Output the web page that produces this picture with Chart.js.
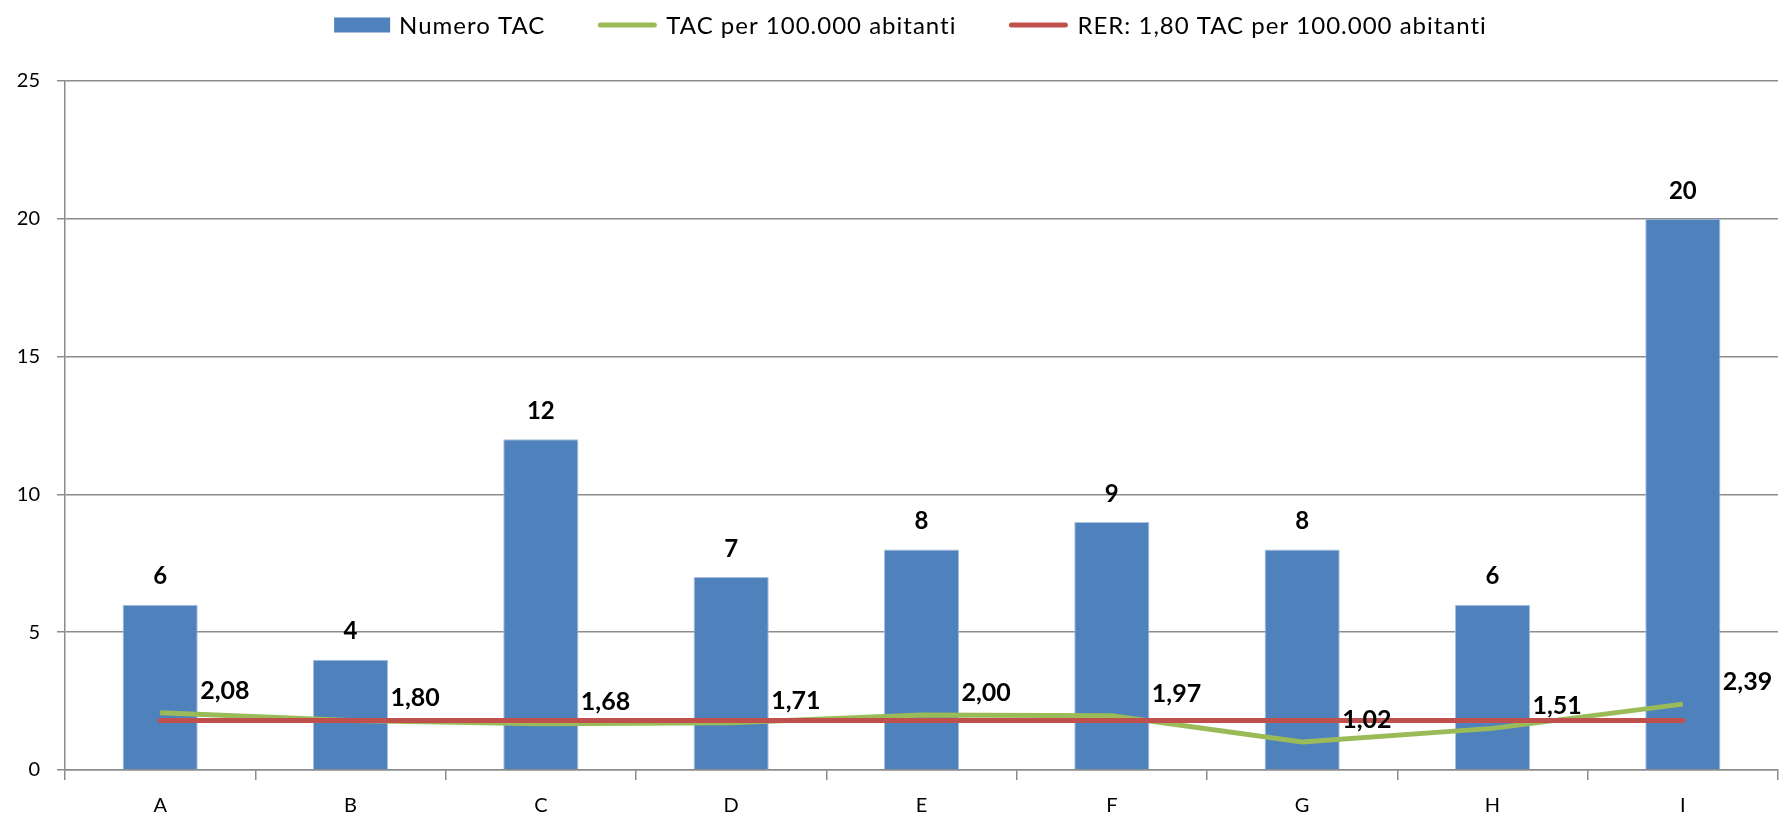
<!DOCTYPE html>
<html>
<head>
<meta charset="utf-8">
<script src="https://cdn.jsdelivr.net/npm/chart.js@4/dist/chart.umd.min.js"></script>
<style>
  html, body { margin: 0; padding: 0; background: #fff; }
  #chart { display: block; }
</style>
</head>
<body>
<canvas id="chart" width="1780" height="820"></canvas>
<script>
const categories = ["A", "B", "C", "D", "E", "F", "G", "H", "I"];
const numeroTac = [6, 4, 12, 7, 8, 9, 8, 6, 20];
const tacPer100k = [2.08, 1.80, 1.68, 1.71, 2.00, 1.97, 1.02, 1.51, 2.39];
const rerValue = 1.80;
const rerLine = categories.map(() => rerValue);
const yTicks = [0, 5, 10, 15, 20, 25];

const seriesNames = ["Numero TAC", "TAC per 100.000 abitanti", "RER: 1,80 TAC per 100.000 abitanti"];

const BLUE = "#4f81bd";
const GREEN = "#9bbb59";
const RED = "#c0504d";
const GRID = "#8c8c8c";
const FONT = "Lato, 'Liberation Sans', sans-serif";

const fmt = v => v.toFixed(2).replace(".", ",");

// legend drawn by hand (spacing of the original does not fit Chart.js legend)
const legendPlugin = {
  id: "topLegend",
  afterDraw(chart) {
    const ctx = chart.ctx;
    ctx.save();
    ctx.font = "24px " + FONT;
    ctx.letterSpacing = "1px";
    const gapText = 9, gapItem = 52;
    const items = chart.data.datasets.map(ds => ({
      text: ds.label,
      color: ds.type === "bar" ? ds.backgroundColor : ds.borderColor,
      bar: ds.type === "bar",
      boxW: ds.type === "bar" ? 56 : 60
    }));
    let total = 0;
    items.forEach((it, i) => {
      it.w = ctx.measureText(it.text).width;
      if (it.w < it.text.length * 0.4 * 24) it.w += it.text.length; // spacing not counted
      total += it.boxW + gapText + it.w + (i ? gapItem : 0);
    });
    const area = chart.chartArea;
    let x = (area.left + area.right) / 2 - total / 2 - 11;
    const y = 25;
    items.forEach(it => {
      if (it.bar) {
        ctx.fillStyle = it.color;
        ctx.fillRect(x, y - 7.5, it.boxW, 15);
      } else {
        ctx.strokeStyle = it.color;
        ctx.lineWidth = 5;
        ctx.lineCap = "round";
        ctx.beginPath();
        ctx.moveTo(x + 3, y);
        ctx.lineTo(x + it.boxW - 3, y);
        ctx.stroke();
      }
      ctx.fillStyle = "#000";
      ctx.textAlign = "left";
      ctx.textBaseline = "middle";
      ctx.fillText(it.text, x + it.boxW + gapText, y + 1);
      x += it.boxW + gapText + it.w + gapItem;
    });
    ctx.restore();
  }
};

// value labels above bars and beside the green line points
const labelPlugin = {
  id: "valueLabels",
  afterDatasetsDraw(chart) {
    const ctx = chart.ctx;
    ctx.save();
    ctx.fillStyle = "#000";
    ctx.textBaseline = "middle";

    ctx.font = "bold 24px " + FONT;
    const bars = chart.getDatasetMeta(0);
    ctx.textAlign = "center";
    bars.data.forEach((el, i) => {
      ctx.fillText(String(numeroTac[i]), el.x, el.y - 28);
    });

    ctx.font = "bold 25px " + FONT;
    const pts = chart.getDatasetMeta(1);
    ctx.textAlign = "left";
    pts.data.forEach((el, i) => {
      ctx.fillText(fmt(tacPer100k[i]), el.x + 40, el.y - 22);
    });
    ctx.restore();
  }
};

new Chart(document.getElementById("chart"), {
  type: "bar",
  data: {
    labels: categories,
    datasets: [
      {
        type: "bar",
        label: seriesNames[0],
        data: numeroTac,
        backgroundColor: BLUE,
        borderColor: "#a9c0de",
        borderWidth: 1,
        barPercentage: 0.395,
        categoryPercentage: 1,
        order: 3
      },
      {
        type: "line",
        label: seriesNames[1],
        data: tacPer100k,
        borderColor: GREEN,
        backgroundColor: GREEN,
        borderWidth: 5,
        pointRadius: 0,
        tension: 0,
        order: 2
      },
      {
        type: "line",
        label: seriesNames[2],
        data: rerLine,
        borderColor: RED,
        backgroundColor: RED,
        borderWidth: 5,
        borderCapStyle: "round",
        pointRadius: 0,
        tension: 0,
        order: 1
      }
    ]
  },
  options: {
    responsive: false,
    animation: false,
    layout: { padding: { top: 81, right: 2, left: 0, bottom: 0 } },
    plugins: {
      legend: { display: false },
      tooltip: { enabled: false }
    },
    scales: {
      x: {
        offset: true,
        grid: {
          offset: true,
          drawOnChartArea: false,
          drawTicks: true,
          tickLength: 10,
          color: GRID,
          lineWidth: 1.5
        },
        border: { color: GRID, width: 1.5 },
        ticks: { color: "#000", font: { family: FONT, size: 20 }, padding: 14 },
        afterFit(scale) { scale.height = 50; }
      },
      y: {
        min: 0,
        max: 25,
        afterBuildTicks(scale) { scale.ticks = yTicks.map(v => ({ value: v })); },
        grid: { color: GRID, lineWidth: 1.5, tickLength: 8 },
        border: { color: GRID, width: 1.5 },
        ticks: { color: "#000", font: { family: FONT, size: 20 }, padding: 17 },
        afterFit(scale) { scale.width = 65; }
      }
    }
  },
  plugins: [legendPlugin, labelPlugin]
});
</script>
</body>
</html>
